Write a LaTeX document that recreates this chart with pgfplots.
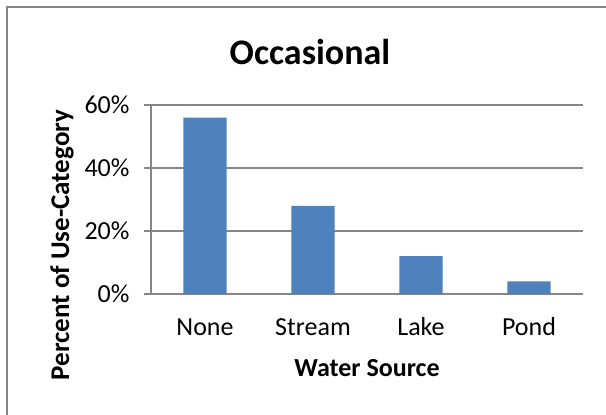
\documentclass[border=0pt]{standalone}
\usepackage{pgfplots}
\pgfplotsset{compat=1.18}
\usepackage{fontspec}
\setmainfont{Carlito}
\definecolor{barblue}{RGB}{79,129,189}
\definecolor{axisgrey}{RGB}{134,134,134}
\begin{document}
\begin{tikzpicture}[x=1bp,y=1bp]
\useasboundingbox (0,0) rectangle (606,414);
\fill[white] (0,0) rectangle (606,414);
\draw[axisgrey, line width=1.5bp] (7,-5) -- (7,407) -- (611,407);
\begin{axis}[
    at={(151bp,120bp)}, anchor=south west,
    scale only axis, width=432bp, height=189bp,
    xmin=-0.5, xmax=3.5, ymin=0, ymax=60,
    axis x line=bottom, axis y line=left,
    axis line style={-, axisgrey, line width=1.2bp},
    ytick={0,20,40,60},
    yticklabel={\pgfmathprintnumber{\tick}\%},
    yticklabel style={font=\fontsize{26bp}{31bp}\selectfont, xshift=-11bp},
    ymajorgrids, grid style={axisgrey, line width=1.2bp},
    tick align=outside,
    major tick length=7bp,
    tick style={axisgrey, line width=1.2bp},
    xtick={0,1,2,3},
    xticklabels={None,Stream,Lake,Pond},
    xticklabel style={font=\fontsize{26bp}{31bp}\selectfont, text height=18bp, text depth=6bp, yshift=-13bp},
    x tick style={draw=none},
    extra x ticks={-0.5,0.5,1.5,2.5,3.5},
    extra x tick labels={},
    extra x tick style={tick style={axisgrey, line width=1.2bp}, major tick length=7bp},
    /pgf/number format/assume math mode=true,
    ybar, bar width=0.4,
]
\addplot[fill=barblue, draw=none] coordinates {(0,56) (1,28) (2,12) (3,4)};
\end{axis}
\node[font=\fontsize{36bp}{42bp}\selectfont\bfseries] at (310,362) {Occasional};
\node[font=\fontsize{26bp}{31bp}\selectfont\bfseries] at (367,46) {Water Source};
\node[font=\fontsize{27bp}{32bp}\selectfont\bfseries, rotate=90] at (62,169) {Percent of Use-Category};
\end{tikzpicture}
\end{document}
